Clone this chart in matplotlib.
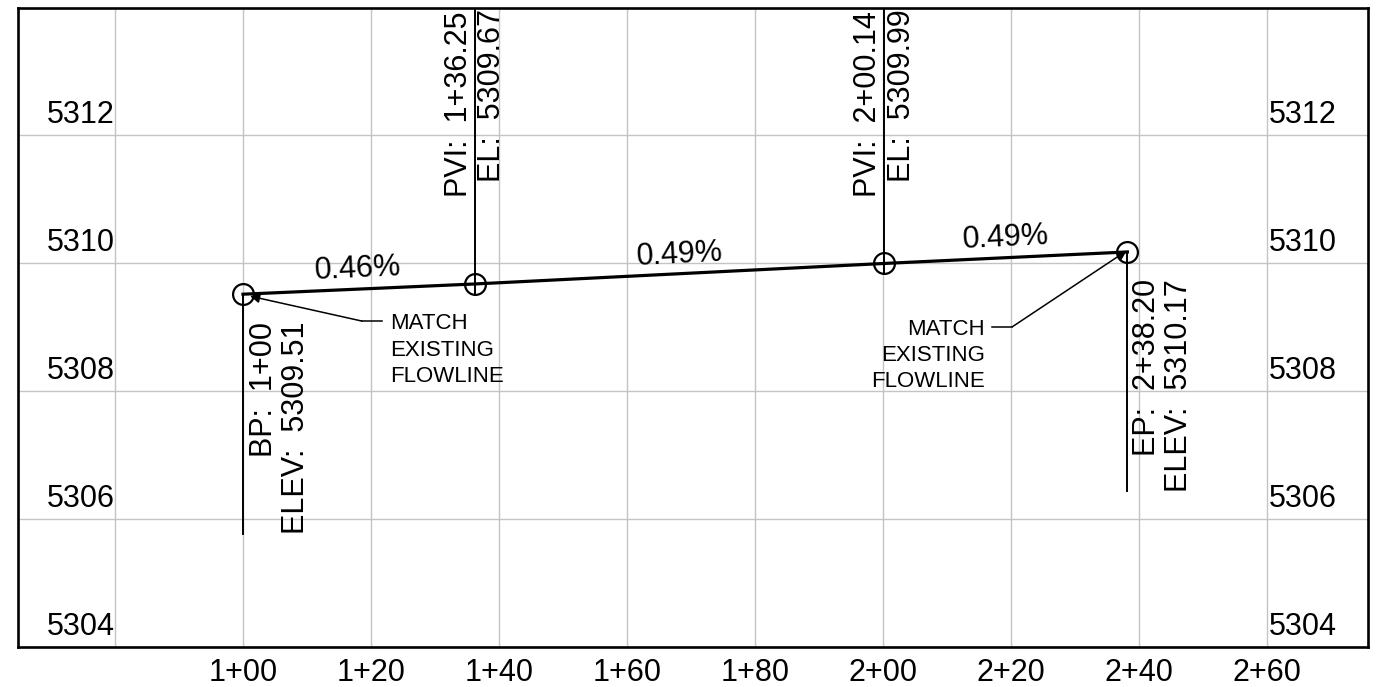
import numpy as np
import matplotlib
matplotlib.use("Agg")
import matplotlib.pyplot as plt

plt.rcParams['font.family'] = ['Liberation Sans', 'DejaVu Sans']

# profile data
stations = [100.00, 136.25, 200.14, 238.20]
elevs = [5309.51, 5309.67, 5309.99, 5310.17]
grades = ["0.46%", "0.49%", "0.49%"]
x_grid = [80, 100, 120, 140, 160, 180, 200, 220, 240, 260]
y_grid = [5304, 5306, 5308, 5310, 5312]

FS = 22


def sta(s):
    return f"{int(s // 100)}+{int(round(s % 100)):02d}"


def sta2(s):
    return f"{sta(s)}.{int(round(s * 100)) % 100:02d}"


fig = plt.figure(figsize=(13.89, 6.87), dpi=100)
ax = fig.add_axes([18 / 1389, 40 / 687, 1350 / 1389, 639 / 687])
ax.set_xlim(64.84, 275.8)
ax.set_ylim(5304, 5313.98)

ax.set_xticks(x_grid)
ax.set_xticklabels(["" if s < 100 else sta(s) for s in x_grid], fontsize=FS)
ax.set_yticks(y_grid)
ax.set_yticklabels([])
ax.tick_params(length=0, pad=8)
ax.grid(True, color="#c4c4c4", lw=1.0)
for sp in ax.spines.values():
    sp.set_linewidth(1.9)

# elevation labels inside the frame
for v in y_grid:
    ax.text(80, v + 0.08, str(v), ha="right", va="bottom", fontsize=FS)
    ax.text(260.3, v + 0.08, str(v), ha="left", va="bottom", fontsize=FS)

# profile line and points
ax.plot(stations, elevs, color="black", lw=2.3, zorder=3)
ax.plot(stations, elevs, "o", ms=15, mfc="none", mec="black", mew=1.6, zorder=4)

# vertical lines: PVIs up to the top, BP/EP down
for s, e in zip(stations[1:3], elevs[1:3]):
    ax.plot([s, s], [e - 0.16, 5314], color="black", lw=1.4, zorder=3)
ax.plot([stations[0]] * 2, [elevs[0], 5305.77], color="black", lw=1.4, zorder=3)
ax.plot([stations[3]] * 2, [elevs[3], 5306.44], color="black", lw=1.4, zorder=3)

# grade labels along the line
grade_pos = [(118.0, 5309.91), (168.2, 5310.12), (219.1, 5310.39)]
for i, g in enumerate(grades):
    ang = np.degrees(np.arctan2(elevs[i + 1] - elevs[i], stations[i + 1] - stations[i]))
    ax.text(grade_pos[i][0], grade_pos[i][1], g, ha="center", va="center",
            fontsize=FS, rotation=ang, transform_rotates_text=True,
            rotation_mode="anchor")

# PVI labels
ax.text(133.7, 5313.93, f"PVI:  {sta2(stations[1])}", rotation=90, ha="center", va="top", fontsize=FS)
ax.text(138.9, 5313.96, f"EL:  {elevs[1]:.2f}", rotation=90, ha="center", va="top", fontsize=FS)
ax.text(197.7, 5313.93, f"PVI:  {sta2(stations[2])}", rotation=90, ha="center", va="top", fontsize=FS)
ax.text(203.0, 5313.96, f"EL:  {elevs[2]:.2f}", rotation=90, ha="center", va="top", fontsize=FS)

# begin / end labels
ax.text(103.3, 5309.08, f"BP:  {sta(stations[0])}", rotation=90, ha="center", va="top", fontsize=FS)
ax.text(108.3, 5309.08, f"ELEV:  {elevs[0]:.2f}", rotation=90, ha="center", va="top", fontsize=FS)
ax.text(241.3, 5309.75, f"EP:  {sta2(stations[3])}", rotation=90, ha="center", va="top", fontsize=FS)
ax.text(246.25, 5309.75, f"ELEV:  {elevs[3]:.2f}", rotation=90, ha="center", va="top", fontsize=FS)

# leaders
ax.annotate("", xy=(101.1, 5309.48), xytext=(118.6, 5309.09),
            arrowprops=dict(arrowstyle="-|>", lw=1.1, color="black",
                            mutation_scale=14, shrinkA=0, shrinkB=0))
ax.plot([118.6, 121.7], [5309.09, 5309.09], color="black", lw=1.1)
ax.text(123.0, 5309.21, "MATCH\nEXISTING\nFLOWLINE", ha="left", va="top",
        fontsize=16, linespacing=1.32)

ax.annotate("", xy=(238.1, 5310.19), xytext=(220.2, 5309.0),
            arrowprops=dict(arrowstyle="-|>", lw=1.1, color="black",
                            mutation_scale=14, shrinkA=0, shrinkB=0))
ax.plot([217.0, 220.2], [5309.0, 5309.0], color="black", lw=1.1)
ax.text(215.9, 5309.13, "MATCH\nEXISTING\nFLOWLINE", ha="right", va="top",
        fontsize=16, linespacing=1.32, multialignment="right")

fig.savefig("out.png", dpi=100)
